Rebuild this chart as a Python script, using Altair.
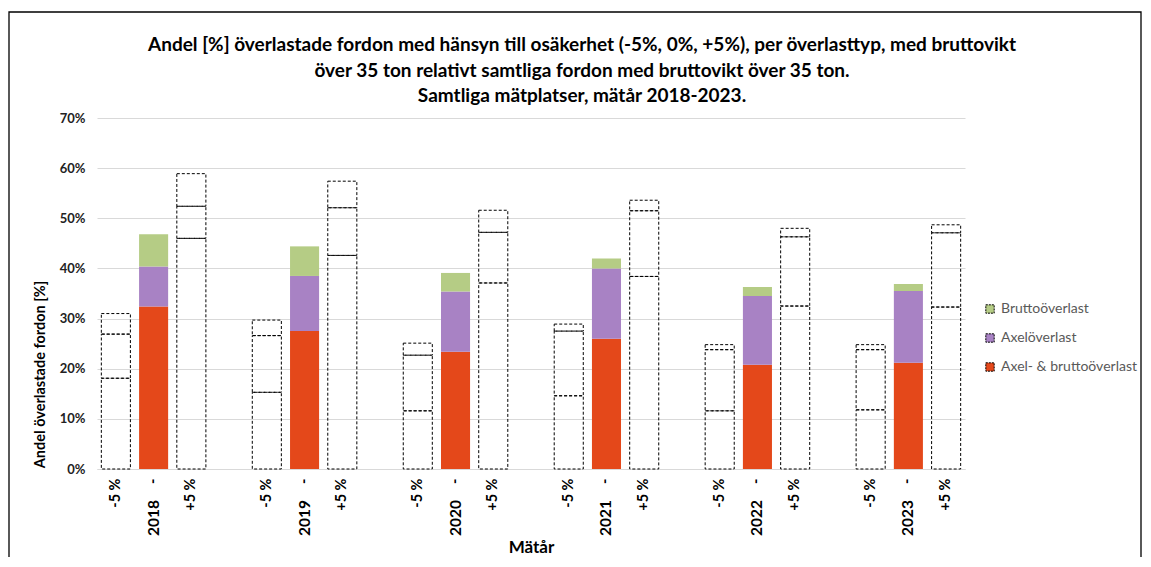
import altair as alt
import pandas as pd

title_lines = [
    "Andel [%] överlastade fordon med hänsyn till osäkerhet (-5%, 0%, +5%), per överlasttyp, med bruttovikt",
    "över 35 ton relativt samtliga fordon med bruttovikt över 35 ton.",
    "Samtliga mätplatser, mätår 2018-2023.",
]

years = ["2018", "2019", "2020", "2021", "2022", "2023"]
variants = ["-5 %", "-", "+5 %"]
series = ["Axel- & bruttoöverlast", "Axelöverlast", "Bruttoöverlast"]
colors = ["#E4481A", "#A882C4", "#B5CC85"]

# cumulative levels (%): bottom segment top, middle segment top, total
minus_ab = [18.1, 15.3, 11.6, 14.6, 11.6, 11.8]
minus_ax = [26.9, 26.6, 22.7, 27.5, 23.8, 23.8]
minus_tot = [31.0, 29.7, 25.1, 28.9, 24.8, 24.8]

mid_ab = [32.4, 27.5, 23.4, 26.0, 20.8, 21.2]
mid_ax = [40.4, 38.5, 35.4, 40.0, 34.5, 35.5]
mid_tot = [46.8, 44.4, 39.1, 42.0, 36.3, 36.9]

plus_ab = [46.0, 42.6, 37.1, 38.4, 32.5, 32.3]
plus_ax = [52.4, 52.1, 47.2, 51.5, 46.3, 47.1]
plus_tot = [58.9, 57.4, 51.6, 53.6, 48.0, 48.7]

levels = {
    "-5 %": (minus_ab, minus_ax, minus_tot),
    "-": (mid_ab, mid_ax, mid_tot),
    "+5 %": (plus_ab, plus_ax, plus_tot),
}

rows = []
for i, yr in enumerate(years):
    for v in variants:
        ab, ax, tot = levels[v]
        segs = [ab[i], ax[i] - ab[i], tot[i] - ax[i]]
        for k, s in enumerate(series):
            rows.append({"slot": f"{v}|{yr}", "variant": v, "year": yr,
                         "series": s, "ord": k, "value": segs[k] / 100})
df = pd.DataFrame(rows)

slots = []
for i, yr in enumerate(years):
    for v in variants:
        slots.append(f"{v}|{yr}")
    if i < len(years) - 1:
        slots.append(f" |{yr}")

FONT = "Lato"

xscale = alt.Scale(domain=slots, paddingInner=0.23, paddingOuter=0.115)
xaxis = alt.Axis(
    title="Mätår", labelExpr="split(datum.value, '|')[0]", labelAngle=270,
    labelAlign="right", labelBaseline="middle", ticks=False, labelPadding=9,
    domainColor="#d9d9d9", labelFontSize=14.5, labelFontWeight="bold",
    labelColor="#000000", titleFontSize=17, titleFontWeight="bold",
    titleY=78, titleBaseline="middle", titleColor="#000000", labelOverlap=False,
)
X = alt.X("slot:N", scale=xscale, axis=xaxis, sort=slots)

yaxis = alt.Axis(
    values=[0, 0.1, 0.2, 0.3, 0.4, 0.5, 0.6, 0.7], format=".0%",
    title="Andel överlastade fordon [%]", titleFontSize=14.5, titleFontWeight="bold",
    titleX=-57, titleY=256, titleAngle=270, titleAlign="center", titleBaseline="middle",
    titleColor="#000000", labelFontSize=13, labelFontWeight="bold", labelColor="#222222",
    labelPadding=12, ticks=False, domain=False, grid=True, gridColor="#d9d9d9",
)
Y = alt.Y("value:Q", stack="zero", scale=alt.Scale(domain=[0, 0.7]), axis=yaxis)

filled = alt.Chart(df[df["variant"] == "-"]).mark_bar(strokeWidth=0).encode(
    x=X,
    y=Y,
    color=alt.Color("series:N", scale=alt.Scale(domain=series[::-1], range=colors[::-1]),
                    legend=alt.Legend(
                        title=None, orient="none", legendX=886, legendY=184,
                        symbolType="square", symbolSize=70, symbolStrokeColor="black",
                        symbolStrokeWidth=1, symbolDash=[2, 1], labelFontSize=14,
                        labelColor="#595959", labelFont=FONT, rowPadding=15, labelOffset=4,
                        labelLimit=200)),
    order=alt.Order("ord:Q"),
)

outline = alt.Chart(df[df["variant"] != "-"]).mark_bar(
    fillOpacity=0, stroke="black", strokeWidth=1, strokeDash=[3, 2]
).encode(
    x=X,
    y=Y,
    detail="series:N",
    order=alt.Order("ord:Q"),
)

year_df = pd.DataFrame({"slot": [f"-|{y}" for y in years], "year": years})
year_text = alt.Chart(year_df).mark_text(
    angle=270, align="right", baseline="middle", fontWeight="bold", fontSize=15.5,
    font=FONT, color="black"
).encode(x=X, y=alt.value(382), text="year:N")

title_df = pd.DataFrame({"t": ["\n".join(title_lines)]})
title_text = alt.Chart(title_df).mark_text(
    align="center", baseline="middle", lineBreak="\n", lineHeight=25.5,
    fontWeight="bold", fontSize=19, font=FONT, color="black"
).encode(x=alt.value(485), y=alt.value(-73), text="t:N")

border = alt.Chart(pd.DataFrame({"a": [0]})).mark_rect(
    filled=False, stroke="black", strokeWidth=1.3
).encode(x=alt.value(-88), x2=alt.value(1044), y=alt.value(-106), y2=alt.value(470))

chart = alt.layer(outline, filled, year_text, title_text, border).properties(
    width=868, height=351,
    padding={"left": 89, "top": 110, "right": 177, "bottom": 88},
    autosize=alt.AutoSizeParams(type="none"),
).configure(font=FONT).configure_view(stroke=None).configure_axis(
    labelFont=FONT, titleFont=FONT
)

chart.save("out.html", embed_options={"renderer": "svg", "actions": False})
